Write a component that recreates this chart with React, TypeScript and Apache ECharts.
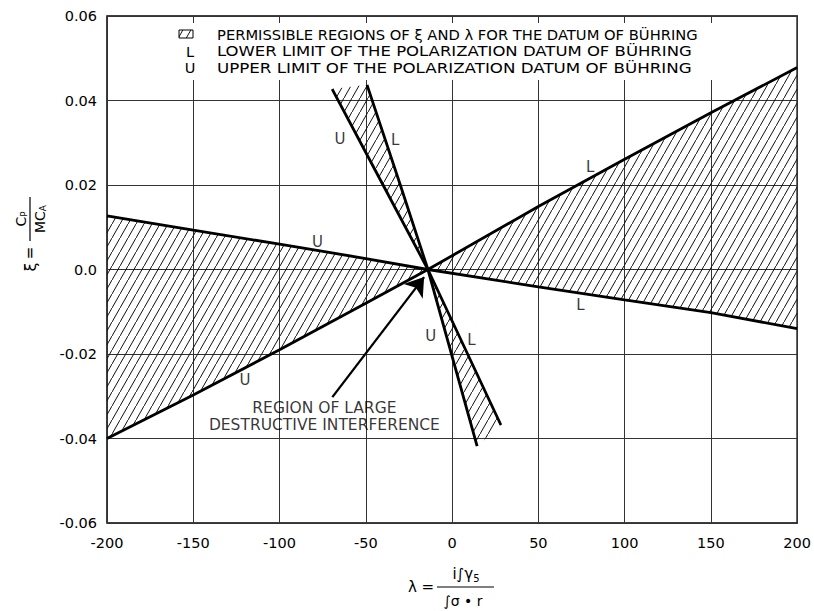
import React, { useEffect, useRef } from "react";
import * as echarts from "echarts";

// Axis ticks
const xMin = -200, xMax = 200, xStep = 50;
const yMin = -0.06, yMax = 0.06, yStep = 0.02;

// Boundary curves (lambda, xi)
const lineA = [[-200, 0.0127], [-150, 0.0093], [-100, 0.006], [-50, 0.0026], [-14, 0], [50, -0.0041], [100, -0.0072], [150, -0.0102], [200, -0.014]];
const lineB = [[-200, -0.04], [-150, -0.0297], [-100, -0.019], [-50, -0.008], [-14, 0], [50, 0.0149], [100, 0.0261], [150, 0.0371], [200, 0.0478]];
const lineC = [[-69.5, 0.0427], [-40, 0.02], [-14, 0], [28.3, -0.0368]];
const lineD = [[-49.3, 0.0437], [-30, 0.02], [-14, 0], [14.5, -0.0418]];
const crossX = -14;

// Curve letters
const curveLabels = [
  { name: "U", value: [-78, 0.0066] },
  { name: "U", value: [-120, -0.0262] },
  { name: "L", value: [80, 0.0243] },
  { name: "L", value: [74.4, -0.0084] },
  { name: "U", value: [-65, 0.0308] },
  { name: "L", value: [-33, 0.0306] },
  { name: "U", value: [-12.3, -0.0157] },
  { name: "L", value: [11.2, -0.0167] },
];

const noteText = "REGION OF LARGE\nDESTRUCTIVE INTERFERENCE";
const notePos = [-74, -0.0347];
const arrowPts = [[-69.4, -0.0302], [-16.2, -0.0018]];

const legendLines = [
  { key: "", text: "PERMISSIBLE REGIONS OF ξ AND λ FOR THE DATUM OF BÜHRING", end: 698 },
  { key: "L", text: "LOWER LIMIT OF THE POLARIZATION DATUM OF BÜHRING", end: 692 },
  { key: "U", text: "UPPER LIMIT OF THE POLARIZATION DATUM OF BÜHRING", end: 692 },
];

const regions = [
  lineA.filter((p) => p[0] <= crossX).concat(lineB.filter((p) => p[0] < crossX).reverse()),
  lineB.filter((p) => p[0] >= crossX).concat(lineA.filter((p) => p[0] > crossX).reverse()),
  lineC.filter((p) => p[1] >= 0).concat(lineD.filter((p) => p[1] > 0).reverse()),
  lineC.filter((p) => p[1] <= 0).concat(lineD.filter((p) => p[1] < 0).reverse()),
];

const FONT = "DejaVu Sans";
const LEGEND_FONT = `14.5px "${FONT}"`;
const LEGEND_X = 217;

function makeHatch() {
  const w = 8, h = 14;
  const c = document.createElement("canvas");
  c.width = w;
  c.height = h;
  const ctx = c.getContext("2d")!;
  ctx.strokeStyle = "#111";
  ctx.lineWidth = 1;
  ctx.beginPath();
  ctx.moveTo(-1, h + h / w);
  ctx.lineTo(w + 1, -h / w);
  ctx.stroke();
  return { image: c, repeat: "repeat", imageWidth: w, imageHeight: h } as any;
}

function measure(text: string, font: string) {
  const c = document.createElement("canvas");
  const ctx = c.getContext("2d")!;
  ctx.font = font;
  return ctx.measureText(text).width;
}

export default function App() {
  const ref = useRef<HTMLDivElement>(null);
  useEffect(() => {
    document.body.style.margin = "0";
    const chart = echarts.init(ref.current!, null, { renderer: "svg" });
    const hatch = makeHatch();
    const lineSeries = [lineA, lineB, lineC, lineD].map((d) => ({
      type: "line",
      data: d,
      showSymbol: false,
      symbol: "none",
      lineStyle: { color: "#000", width: 2.8 },
      z: 4,
      silent: true,
    }));
    const option: any = {
      animation: false,
      backgroundColor: "#fff",
      grid: { left: 107, right: 15, top: 16, bottom: 88, show: true, borderColor: "#000", borderWidth: 1.5, backgroundColor: "transparent" },
      xAxis: {
        type: "value", min: xMin, max: xMax, interval: xStep,
        axisLine: { show: false }, axisTick: { show: false },
        splitLine: { show: true, lineStyle: { color: "#333", width: 1 } },
        axisLabel: { color: "#000", fontFamily: FONT, fontSize: 14.5, margin: 12 },
      },
      yAxis: {
        type: "value", min: yMin, max: yMax, interval: yStep,
        axisLine: { show: false }, axisTick: { show: false },
        splitLine: { show: true, lineStyle: { color: "#333", width: 1 } },
        axisLabel: {
          color: "#000", fontFamily: FONT, fontSize: 14.5, margin: 10,
          formatter: (v: number) => (Math.abs(v) < 1e-9 ? "0.0" : v.toFixed(2)),
        },
      },
      series: [
        {
          type: "custom",
          silent: true,
          clip: true,
          z: 2,
          data: regions.map(() => [crossX, 0]),
          renderItem: (params: any, api: any) => {
            const pts = regions[params.dataIndex].map((p) => api.coord(p));
            return { type: "polygon", shape: { points: pts }, style: { fill: hatch, stroke: null } };
          },
        },
        ...lineSeries,
        {
          type: "lines",
          coordinateSystem: "cartesian2d",
          silent: true,
          z: 5,
          symbol: ["none", "arrow"],
          symbolSize: [10, 18],
          lineStyle: { color: "#000", width: 2.3, opacity: 1, curveness: 0 },
          data: [{ coords: arrowPts }],
        },
        {
          type: "scatter",
          silent: true,
          z: 6,
          symbolSize: 0,
          data: curveLabels,
          label: { show: true, position: "inside", formatter: "{b}", color: "#000", fontFamily: FONT, fontSize: 15 },
        },
        {
          type: "scatter",
          silent: true,
          z: 6,
          symbolSize: 0,
          data: [{ name: noteText, value: notePos }],
          label: { show: true, position: "inside", formatter: "{b}", color: "#000", fontFamily: FONT, fontSize: 15.5, lineHeight: 17, align: "center" },
        },
      ],
      graphic: [
        { type: "rect", z: 50, shape: { x: 150, y: 23, width: 580, height: 57 }, style: { fill: "#fff" } },
        { type: "rect", z: 51, shape: { x: 179, y: 30, width: 14, height: 8 }, style: { fill: hatch, stroke: "#000", lineWidth: 1 } },
        ...legendLines.flatMap((l, i) => {
          const w = measure(l.text, LEGEND_FONT);
          const sx = w > 0 ? (l.end - LEGEND_X) / w : 1;
          return [
            { type: "text", z: 51, x: 190, y: 35 + i * 16.5, style: { text: l.key, fill: "#000", font: LEGEND_FONT, align: "center", verticalAlign: "middle" } },
            { type: "text", z: 51, x: LEGEND_X, y: 35 + i * 16.5, scaleX: sx, style: { text: l.text, fill: "#000", font: LEGEND_FONT, align: "left", verticalAlign: "middle" } },
          ];
        }),
        // x-axis title
        { type: "text", z: 51, x: 421, y: 587, style: { text: "λ =", fill: "#000", font: `15px "${FONT}"`, align: "center", verticalAlign: "middle" } },
        { type: "line", z: 51, shape: { x1: 437, y1: 587, x2: 494, y2: 587 }, style: { stroke: "#000", lineWidth: 1.2 } },
        {
          type: "text", z: 51, x: 466, y: 574,
          style: {
            text: "{a|i∫γ}{s|5}", align: "center", verticalAlign: "middle",
            rich: { a: { fontFamily: FONT, fontSize: 15, fill: "#000" }, s: { fontFamily: FONT, fontSize: 10, fill: "#000", padding: [8, 0, 0, 0] } },
          },
        },
        { type: "text", z: 51, x: 463, y: 601, style: { text: "∫σ • r", fill: "#000", font: `14px "${FONT}"`, align: "center", verticalAlign: "middle" } },
        // y-axis title (rotated)
        {
          type: "group", x: 30, y: 253, rotation: Math.PI / 2, z: 51,
          children: [
            { type: "text", z: 51, x: -14, y: 0, style: { text: "ξ", fill: "#000", font: `16px "${FONT}"`, align: "center", verticalAlign: "middle" } },
            { type: "text", z: 51, x: 0, y: 0, style: { text: "=", fill: "#000", font: `15px "${FONT}"`, align: "center", verticalAlign: "middle" } },
            { type: "line", z: 51, shape: { x1: 12, y1: 0, x2: 56, y2: 0 }, style: { stroke: "#000", lineWidth: 1.2 } },
            {
              type: "text", z: 51, x: 34, y: -9,
              style: {
                text: "{a|C}{s|P}", align: "center", verticalAlign: "middle",
                rich: { a: { fontFamily: FONT, fontSize: 14, fill: "#000" }, s: { fontFamily: FONT, fontSize: 9, fill: "#000", padding: [6, 0, 0, 0] } },
              },
            },
            {
              type: "text", z: 51, x: 34, y: 10,
              style: {
                text: "{a|MC}{s|A}", align: "center", verticalAlign: "middle",
                rich: { a: { fontFamily: FONT, fontSize: 14, fill: "#000" }, s: { fontFamily: FONT, fontSize: 9, fill: "#000", padding: [6, 0, 0, 0] } },
              },
            },
          ],
        },
      ],
    };
    chart.setOption(option);
    return () => chart.dispose();
  }, []);
  return <div ref={ref} style={{ width: 814, height: 611 }} />;
}
